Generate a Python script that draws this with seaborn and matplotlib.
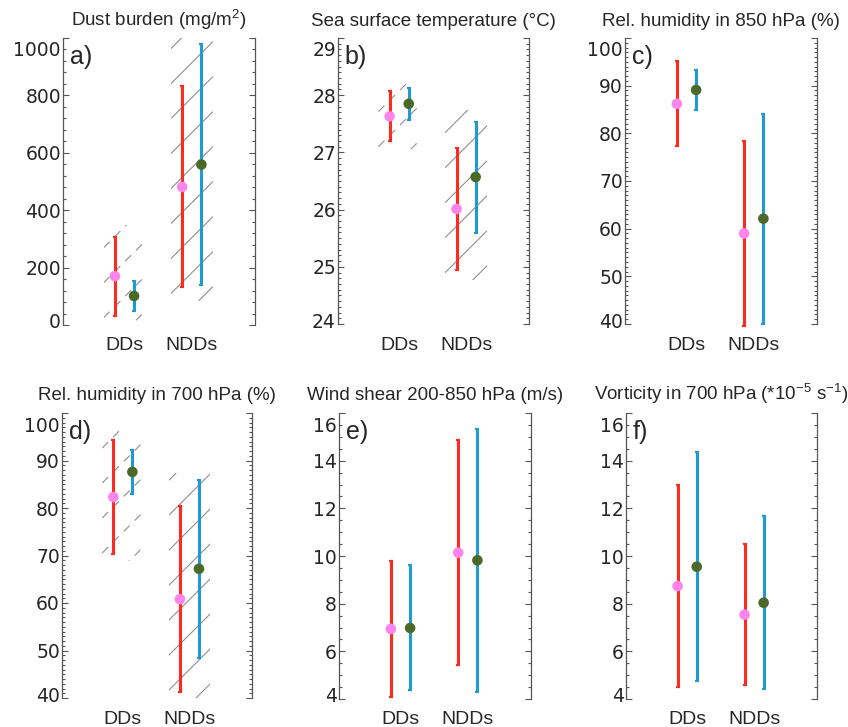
import numpy as np
import pandas as pd
import matplotlib
matplotlib.use("Agg")
import matplotlib.pyplot as plt
from matplotlib.ticker import MultipleLocator, AutoMinorLocator
from matplotlib.patches import Rectangle
from matplotlib.transforms import ScaledTranslation
import seaborn as sns

sns.set_theme(style="ticks")
plt.rcParams['font.family'] = ['Liberation Sans', 'DejaVu Sans']
plt.rcParams['mathtext.fontset'] = 'custom'
plt.rcParams['mathtext.rm'] = 'Liberation Sans'
plt.rcParams['lines.scale_dashes'] = False

# ---------------- data ----------------
categories = ["DDs", "NDDs"]

titles = ["Dust burden (mg/m$^2$)",
          "Sea surface temperature (\u00b0C)",
          "Rel. humidity in 850 hPa (%)",
          "Rel. humidity in 700 hPa (%)",
          "Wind shear 200-850 hPa (m/s)",
          "Vorticity in 700 hPa (*10$^{-5}$ s$^{-1}$)"]
panel_letters = ["a)", "b)", "c)", "d)", "e)", "f)"]

# red series (mean, min, max) per category
red_mean_a = [170, 481];   red_lo_a = [31, 133];    red_hi_a = [308, 833]
blue_mean_a = [101, 559];  blue_lo_a = [49, 139];   blue_hi_a = [154, 980]

red_mean_b = [27.63, 26.01]; red_lo_b = [27.20, 24.94]; red_hi_b = [28.08, 27.08]
blue_mean_b = [27.85, 26.57]; blue_lo_b = [27.56, 25.59]; blue_hi_b = [28.13, 27.53]

red_mean_c = [86.2, 59.0]; red_lo_c = [77.3, 39.6]; red_hi_c = [95.2, 78.4]
blue_mean_c = [89.1, 62.1]; blue_lo_c = [84.8, 40.1]; blue_hi_c = [93.3, 84.0]

red_mean_d = [82.3, 60.8]; red_lo_d = [70.3, 41.2]; red_hi_d = [94.4, 80.4]
blue_mean_d = [87.6, 67.2]; blue_lo_d = [82.9, 48.4]; blue_hi_d = [92.3, 85.8]

red_mean_e = [6.94, 10.14]; red_lo_e = [4.08, 5.44]; red_hi_e = [9.79, 14.87]
blue_mean_e = [6.98, 9.82]; blue_lo_e = [4.39, 4.29]; blue_hi_e = [9.61, 15.31]

red_mean_f = [8.74, 7.54]; red_lo_f = [4.50, 4.60]; red_hi_f = [12.97, 10.52]
blue_mean_f = [9.55, 8.04]; blue_lo_f = [4.74, 4.41]; blue_hi_f = [14.35, 11.68]

# hatched ranges (lo, hi) per category; None = no hatch
hatch_a = [(0, 350), (84, 1000)]
hatch_b = [(26.97, 28.26), (24.77, 27.75)]
hatch_c = None
hatch_d = [(68.9, 96.5), (40, 87.4)]
hatch_e = None
hatch_f = None

ylims = [(0, 1000), (24, 29), (40, 100), (40, 100), (4, 16), (4, 16)]
major_steps = [200, 1, 10, 10, 2, 2]
minor_counts = [5, 10, 10, 10, 4, 4]

panels = [
    (red_mean_a, red_lo_a, red_hi_a, blue_mean_a, blue_lo_a, blue_hi_a, hatch_a),
    (red_mean_b, red_lo_b, red_hi_b, blue_mean_b, blue_lo_b, blue_hi_b, hatch_b),
    (red_mean_c, red_lo_c, red_hi_c, blue_mean_c, blue_lo_c, blue_hi_c, hatch_c),
    (red_mean_d, red_lo_d, red_hi_d, blue_mean_d, blue_lo_d, blue_hi_d, hatch_d),
    (red_mean_e, red_lo_e, red_hi_e, blue_mean_e, blue_lo_e, blue_hi_e, hatch_e),
    (red_mean_f, red_lo_f, red_hi_f, blue_mean_f, blue_lo_f, blue_hi_f, hatch_f),
]

# ---------------- styling ----------------
RED = "#FF2A1F"
BLUE = "#1F9AD3"
PINK = "#FF85EC"
GREEN = "#4A6A2A"
GRAY = "#555555"
HATCH = "#8F8F8F"

W, H = 848, 727
fig = plt.figure(figsize=(W / 100, H / 100), dpi=100)
fig.patch.set_facecolor("white")

# axes boxes in pixels: left, top, right, bottom
boxes = [(63, 38, 255, 325), (338, 38, 529, 324), (625, 38, 817, 324),
         (62, 413, 252, 698), (339, 413, 531, 699), (626, 413, 817, 699)]

xpos = np.arange(1, len(categories) + 1)
offset = 0.143
hatch_half = 0.31
hatch_spacing_px = 35


def draw_hatch(ax, xc, ylo, yhi, dashed):
    ymin, ymax = ax.get_ylim()
    ylo = max(ylo, ymin)
    yhi = min(yhi, ymax)
    x0, x1 = xc - hatch_half, xc + hatch_half
    rect = Rectangle((x0, ylo), x1 - x0, yhi - ylo, transform=ax.transData,
                     facecolor="none", edgecolor="none")
    ax.add_patch(rect)
    (X0, Y0) = ax.transData.transform((x0, ylo))
    (X1, Y1) = ax.transData.transform((x1, yhi))
    inv = ax.transData.inverted()
    c = (Y0 - X1) + 0.4 * hatch_spacing_px
    while c < Y1 - X0:
        p0 = inv.transform((X0, X0 + c))
        p1 = inv.transform((X1, X1 + c))
        ln, = ax.plot([p0[0], p1[0]], [p0[1], p1[1]], color=HATCH, lw=0.8,
                      ls=(0, (6, 5)) if dashed else "-", zorder=1)
        ln.set_clip_path(rect)
        c += hatch_spacing_px


axes = []
for i, (rm, rl, rh, bm, bl, bh, hatch) in enumerate(panels):
    l, t, r, b = boxes[i]
    ax = fig.add_axes([l / W, 1 - b / H, (r - l) / W, (b - t) / H])
    axes.append(ax)
    ax.set_xlim(0.086, 2.94)
    ax.set_ylim(*ylims[i])

    if hatch is not None:
        for k, (hl, hh) in enumerate(hatch):
            draw_hatch(ax, xpos[k], hl, hh, dashed=(k == 0))

    rm, rl, rh = map(np.asarray, (rm, rl, rh))
    bm, bl, bh = map(np.asarray, (bm, bl, bh))
    ax.errorbar(xpos - offset, rm, yerr=[rm - rl, rh - rm], fmt="none",
                ecolor=RED, elinewidth=2.2, capsize=1.6, capthick=1.6,
                zorder=3, clip_on=False)
    ax.errorbar(xpos + offset, bm, yerr=[bm - bl, bh - bm], fmt="none",
                ecolor=BLUE, elinewidth=2.2, capsize=1.6, capthick=1.6,
                zorder=3, clip_on=False)

    df = pd.DataFrame({
        "x": np.concatenate([xpos - offset, xpos + offset]),
        "y": np.concatenate([rm, bm]),
        "series": ["red"] * len(xpos) + ["blue"] * len(xpos),
    })
    sns.scatterplot(data=df, x="x", y="y", hue="series",
                    palette={"red": PINK, "blue": GREEN}, s=58,
                    edgecolor="none", legend=False, ax=ax, zorder=4,
                    clip_on=False)

    ax.set_xlabel("")
    ax.set_ylabel("")
    ax.set_xticks(xpos)
    ax.set_xticklabels(categories, fontsize=14)
    ax.tick_params(axis="x", length=0, pad=9)

    ax.yaxis.set_major_locator(MultipleLocator(major_steps[i]))
    ax.yaxis.set_minor_locator(AutoMinorLocator(minor_counts[i]))
    ax.tick_params(axis="y", which="both", direction="in", left=True,
                   right=True, color=GRAY, width=0.8, labelsize=13.5, pad=1.5)
    ax.tick_params(axis="y", which="major", length=4.5)
    ax.tick_params(axis="y", which="minor", length=2)
    for lab in ax.get_yticklabels():
        lab.set_fontfamily("DejaVu Sans")

    for side in ("top", "bottom"):
        ax.spines[side].set_visible(False)
    for side in ("left", "right"):
        ax.spines[side].set_color(GRAY)
        ax.spines[side].set_linewidth(0.9)

    ax.set_title(titles[i], fontsize=13.5, pad=9)
    ax.text(0.035, 0.975, panel_letters[i], transform=ax.transAxes,
            fontsize=18, va="top", ha="left")
    ax.set_facecolor("white")

# shift the end labels inward like the original
fig.canvas.draw()
for i, ax in enumerate(axes):
    locs = ax.yaxis.get_majorticklocs()
    ticks = ax.yaxis.get_major_ticks(len(locs))
    y0, y1 = ylims[i]
    for loc, tk in zip(locs, ticks):
        if np.isclose(loc, y1):
            tk.label1.set_transform(tk.label1.get_transform() +
                                    ScaledTranslation(0, -0.11, fig.dpi_scale_trans))
        elif np.isclose(loc, y0):
            tk.label1.set_transform(tk.label1.get_transform() +
                                    ScaledTranslation(0, 0.04, fig.dpi_scale_trans))

fig.savefig("out.png", dpi=100)
